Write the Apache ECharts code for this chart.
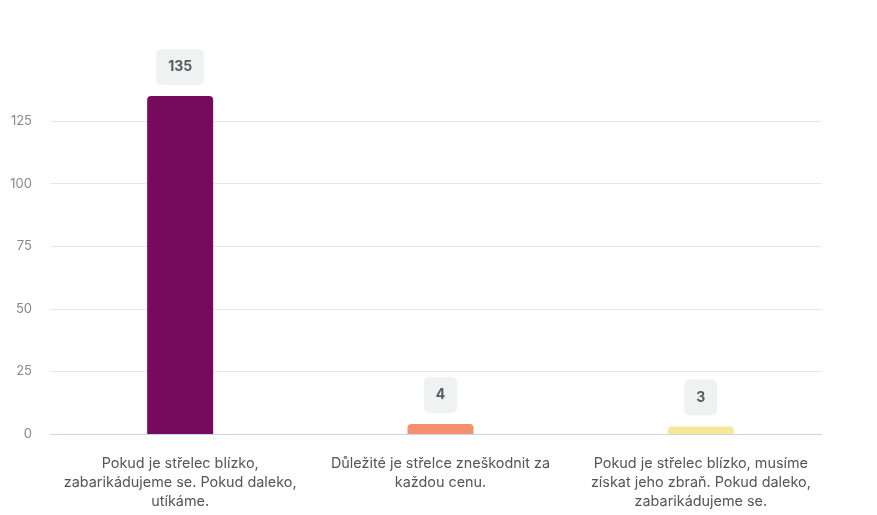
<!DOCTYPE html>
<html>
<head>
<meta charset="utf-8">
<script src="https://cdn.jsdelivr.net/npm/echarts@6/dist/echarts.min.js"></script>
<style>
  html, body { margin: 0; padding: 0; background: #fff; }
  #chart { width: 877px; height: 515px; }
</style>
</head>
<body>
<div id="chart"></div>
<script>
// odpovědi a počty hlasů (zalomení řádků jako v originále)
var categories = [
  'Pokud je střelec blízko,\nzabarikádujeme se. Pokud daleko,\nutíkáme.',
  'Důležité je střelce zneškodnit za\nkaždou cenu.',
  'Pokud je střelec blízko, musíme\nzískat jeho zbraň. Pokud daleko,\nzabarikádujeme se.'
];
var values = [135, 4, 3];
var colors = ['#780a5d', '#f4906c', '#f6e89b'];

var myChart = echarts.init(document.getElementById('chart'));

// grid 0: mřížka a osa y, grid 1: sloupce (o něco širší oblast)
myChart.setOption({
  animation: false,
  textStyle: { fontFamily: 'Inter' },
  grid: [
    { left: 50, right: 55, top: 96, bottom: 81 },
    { left: 50, right: 46, top: 96, bottom: 81 }
  ],
  xAxis: [
    {
      type: 'category',
      gridIndex: 0,
      data: categories,
      axisTick: { show: false },
      axisLabel: { show: false },
      axisLine: { lineStyle: { color: '#ccd6eb' } }
    },
    {
      type: 'category',
      gridIndex: 1,
      data: categories,
      axisTick: { show: false },
      axisLine: { show: false },
      axisLabel: {
        color: '#555',
        fontSize: 14.4,
        lineHeight: 19,
        margin: 20,
        interval: 0
      }
    }
  ],
  yAxis: [
    {
      type: 'value',
      gridIndex: 0,
      min: 0,
      max: 135,
      interval: 25,
      axisLabel: { color: '#888', fontSize: 13, margin: 18, showMaxLabel: false },
      splitLine: { lineStyle: { color: '#e6e6e6' }, showMaxLine: false }
    },
    {
      type: 'value',
      gridIndex: 1,
      min: 0,
      max: 135,
      show: false,
      splitLine: { show: false }
    }
  ],
  series: [{
    type: 'bar',
    xAxisIndex: 1,
    yAxisIndex: 1,
    barWidth: 66,
    data: values.map(function (v, i) {
      return { value: v, itemStyle: { color: colors[i] } };
    }),
    itemStyle: { borderRadius: [4, 4, 0, 0] },
    label: {
      show: true,
      position: 'top',
      distance: 11,
      color: '#555a63',
      fontWeight: 'bold',
      fontSize: 14,
      backgroundColor: '#f0f1f1',
      borderRadius: 6,
      padding: [11, 12]
    }
  }]
});
</script>
</body>
</html>
